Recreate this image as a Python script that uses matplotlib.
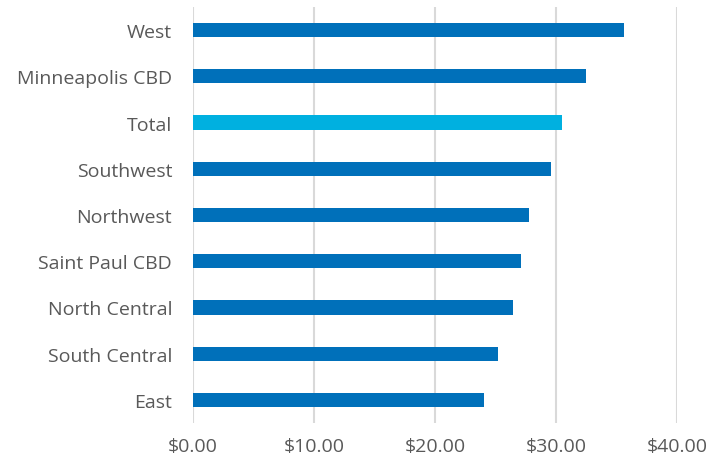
import matplotlib.pyplot as plt
import numpy as np

plt.rcParams['font.family'] = ['Open Sans', 'DejaVu Sans']

regions = ["West", "Minneapolis CBD", "Total", "Southwest", "Northwest",
           "Saint Paul CBD", "North Central", "South Central", "East"]
rents = [35.65, 32.48, 30.47, 29.62, 27.74, 27.14, 26.48, 25.24, 24.05]
ticks = [0, 10, 20, 30, 40]

colors = ['#00B0E0' if r == "Total" else '#0070BA' for r in regions]

fig = plt.figure(figsize=(7.09, 4.6), dpi=100)
ax = fig.add_axes([193/709, 1 - 424/460, (677 - 193)/709, 416/460])

y = np.arange(len(regions))[::-1]
ax.barh(y, rents, height=0.31, color=colors, zorder=3)

ax.set_xlim(0, 40)
ax.set_ylim(-0.5, len(regions) - 0.5)
ax.set_xticks(ticks)
ax.set_xticklabels([f"${t:.2f}" for t in ticks])
ax.set_yticks(y)
ax.set_yticklabels(regions)
ax.grid(axis='x', color='#d9d9d9', linewidth=1.5, zorder=0)
for s in ax.spines.values():
    s.set_visible(False)
ax.tick_params(length=0, labelsize=14, colors='#595959')
ax.tick_params(axis='x', pad=10)
ax.tick_params(axis='y', pad=15)

fig.savefig("out.png")
